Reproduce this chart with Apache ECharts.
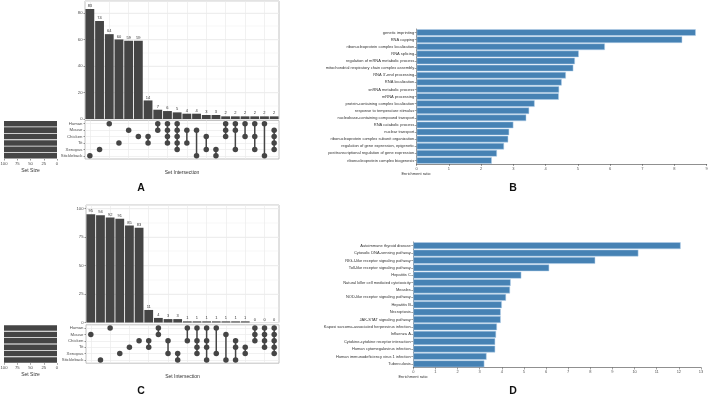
<!DOCTYPE html>
<html>
<head>
<meta charset="utf-8">
<script src="https://cdn.jsdelivr.net/npm/echarts@6/dist/echarts.min.js"></script>
<style>
  html, body { margin: 0; padding: 0; background: #fff; }
  #chart { width: 709px; height: 396px; }
</style>
</head>
<body>
<div id="chart"></div>
<script>
const sets = ["Human", "Mouse", "Chicken", "Tit", "Xenopus", "Stickleback"];

// panel A upset
const countsA = [83, 74, 64, 60, 59, 59, 14, 7, 6, 5, 4, 4, 3, 3, 2, 2, 2, 2, 2, 2];
const membersA = [
  ["Stickleback"], ["Xenopus"], ["Human"], ["Tit"], ["Mouse"], ["Chicken"],
  ["Chicken", "Tit"], ["Human", "Mouse"], ["Human", "Mouse", "Chicken", "Tit"],
  ["Human", "Mouse", "Chicken", "Tit", "Xenopus"], ["Mouse", "Tit"], ["Mouse", "Stickleback"],
  ["Chicken", "Xenopus"], ["Xenopus", "Stickleback"], ["Human", "Mouse", "Chicken"],
  ["Human", "Mouse", "Xenopus"], ["Human", "Chicken"], ["Human", "Chicken", "Xenopus"],
  ["Human", "Stickleback"], ["Mouse", "Chicken", "Tit", "Xenopus"]
];
const setSizeA = [100, 100, 100, 100, 100, 100];

// panel C upset
const countsC = [95, 94, 92, 91, 85, 83, 11, 4, 3, 3, 1, 1, 1, 1, 1, 1, 1, 0, 0, 0];
const membersC = [
  ["Mouse"], ["Stickleback"], ["Human"], ["Xenopus"], ["Tit"], ["Chicken"],
  ["Chicken", "Tit"], ["Human", "Mouse"], ["Chicken", "Xenopus"], ["Xenopus", "Stickleback"],
  ["Human", "Chicken"], ["Human", "Chicken", "Tit", "Xenopus"],
  ["Human", "Chicken", "Tit", "Stickleback"], ["Human", "Xenopus"], ["Mouse", "Stickleback"],
  ["Chicken", "Tit", "Stickleback"], ["Tit", "Xenopus"], ["Human", "Mouse", "Chicken"],
  ["Human", "Mouse", "Chicken", "Tit"], ["Human", "Mouse", "Chicken", "Tit", "Xenopus"]
];
const setSizeC = [100, 100, 100, 100, 100, 100];

// panel B GO enrichment
const termsB = [
  "genetic imprinting", "RNA capping", "ribonucleoprotein complex localization", "RNA splicing",
  "regulation of mRNA metabolic process", "mitochondrial respiratory chain complex assembly",
  "RNA 3'-end processing", "RNA localization", "snRNA metabolic process", "mRNA processing",
  "protein-containing complex localization", "response to temperature stimulus",
  "nucleobase-containing compound transport", "RNA catabolic process", "nuclear transport",
  "ribonucleoprotein complex subunit organization", "regulation of gene expression, epigenetic",
  "posttranscriptional regulation of gene expression", "ribonucleoprotein complex biogenesis"
];
const ratioB = [8.66, 8.24, 5.84, 5.03, 4.91, 4.86, 4.63, 4.5, 4.42, 4.41, 3.66, 3.49, 3.4, 3.0, 2.87, 2.84, 2.71, 2.49, 2.33];

// panel D KEGG enrichment
const termsD = [
  "Autoimmune thyroid disease", "Cytosolic DNA-sensing pathway", "RIG-I-like receptor signaling pathway",
  "Toll-like receptor signaling pathway", "Hepatitis C", "Natural killer cell mediated cytotoxicity",
  "Measles", "NOD-like receptor signaling pathway", "Hepatitis B", "Necroptosis",
  "JAK-STAT signaling pathway", "Kaposi sarcoma-associated herpesvirus infection", "Influenza A",
  "Cytokine-cytokine receptor interaction", "Human cytomegalovirus infection",
  "Human immunodeficiency virus 1 infection", "Tuberculosis"
];
const ratioD = [12.08, 10.17, 8.22, 6.14, 4.88, 4.4, 4.37, 4.19, 4.0, 3.95, 3.95, 3.78, 3.74, 3.7, 3.7, 3.31, 3.21];

const FONT = "Liberation Sans";
const DARK = "#454545";
const GRID = "#ebebeb";

const chart = echarts.init(document.getElementById("chart"), null, { renderer: "canvas" });

const grids = [], xAxes = [], yAxes = [], series = [];

function addGrid(g) {
  grids.push(Object.assign({ containLabel: false, outerBoundsMode: "none" }, g));
  return grids.length - 1;
}

function upset(counts, members, sizes, box, yMax, yStep) {
  const cols = counts.map((_, i) => String(i + 1));

  // intersection bars
  const gBar = addGrid({ left: box.x, top: box.barTop, width: box.w, height: box.barH,
    show: true, borderColor: "#b3b3b3", borderWidth: 0.8, backgroundColor: "#fff" });
  xAxes.push({ gridIndex: gBar, type: "category", data: cols, position: "bottom",
    axisLine: { show: false }, axisTick: { show: false }, axisLabel: { show: false },
    splitLine: { show: true, alignWithLabel: true, lineStyle: { color: GRID, width: 0.7 } } });
  const xBar = xAxes.length - 1;
  // minor grid
  yAxes.push({ gridIndex: gBar, type: "value", position: "left", min: 0, max: yMax, interval: yStep / 2,
    axisLine: { show: false }, axisTick: { show: false }, axisLabel: { show: false },
    splitLine: { show: true, lineStyle: { color: GRID, width: 0.4 } } });
  yAxes.push({ gridIndex: gBar, type: "value", position: "left", offset: 0, min: 0, max: yMax, interval: yStep,
    axisLine: { show: false },
    axisTick: { show: true, length: 1.5, lineStyle: { color: "#333", width: 0.5 } },
    axisLabel: { fontSize: 4.2, color: "#4d4d4d", margin: 2.5, fontFamily: FONT, showMaxLabel: false },
    splitLine: { show: true, lineStyle: { color: GRID, width: 0.8 } } });
  series.push({ type: "bar", xAxisIndex: xBar, yAxisIndex: yAxes.length - 1, data: counts,
    barCategoryGap: "9%", itemStyle: { color: DARK }, silent: true,
    label: { show: true, position: "top", distance: 1, fontSize: 4, color: "#333", fontFamily: FONT } });

  // matrix
  const gMat = addGrid({ left: box.x, top: box.matTop, width: box.w, height: box.matH,
    show: true, borderColor: "#b3b3b3", borderWidth: 0.8, backgroundColor: "#fff" });
  xAxes.push({ gridIndex: gMat, type: "category", data: cols, position: "bottom",
    axisLine: { show: false }, axisTick: { show: false }, axisLabel: { show: false },
    splitLine: { show: true, alignWithLabel: true, lineStyle: { color: GRID, width: 0.7 } },
    name: "Set Intersection", nameLocation: "middle", nameGap: 11,
    nameTextStyle: { fontSize: 5, color: "#333", fontFamily: FONT } });
  const xMat = xAxes.length - 1;
  yAxes.push({ gridIndex: gMat, type: "category", data: sets, inverse: true, position: "left",
    axisLine: { show: false },
    axisTick: { show: true, alignWithLabel: true, length: 1.5, lineStyle: { color: "#333", width: 0.5 } },
    axisLabel: { fontSize: 4.3, color: "#4d4d4d", margin: 2.5, interval: 0, fontFamily: FONT },
    splitLine: { show: true, alignWithLabel: true, lineStyle: { color: GRID, width: 0.7 } } });
  const yMat = yAxes.length - 1;
  const dots = [], segs = [];
  members.forEach((m, i) => {
    const rows = m.map(s => sets.indexOf(s));
    rows.forEach(r => dots.push([i, r]));
    if (rows.length > 1) segs.push([i, Math.min(...rows), Math.max(...rows)]);
  });
  // connectors between the outermost member rows
  series.push({ type: "custom", xAxisIndex: xMat, yAxisIndex: yMat, data: segs, silent: true,
    clip: false, z: 3,
    renderItem: (params, api) => {
      const p1 = api.coord([api.value(0), api.value(1)]);
      const p2 = api.coord([api.value(0), api.value(2)]);
      return { type: "rect", shape: { x: p1[0] - 0.75, y: Math.min(p1[1], p2[1]), width: 1.5, height: Math.abs(p2[1] - p1[1]) },
        style: { fill: DARK } };
    } });
  series.push({ type: "scatter", xAxisIndex: xMat, yAxisIndex: yMat, data: dots, silent: true,
    symbolSize: 5.5, itemStyle: { color: DARK, opacity: 1 }, z: 4 });

  // set size
  const gSize = addGrid({ left: 4, top: box.matTop, width: 53, height: box.matH });
  xAxes.push({ gridIndex: gSize, type: "value", inverse: true, min: 0, max: 100, interval: 25, position: "bottom",
    axisLine: { show: false },
    axisTick: { show: true, length: 1.5, lineStyle: { color: "#333", width: 0.5 } },
    axisLabel: { fontSize: 4.2, color: "#4d4d4d", margin: 2.5, fontFamily: FONT },
    splitLine: { show: false },
    name: "Set Size", nameLocation: "middle", nameGap: 9,
    nameTextStyle: { fontSize: 5, color: "#333", fontFamily: FONT } });
  yAxes.push({ gridIndex: gSize, type: "category", data: sets, inverse: true, show: false });
  series.push({ type: "bar", xAxisIndex: xAxes.length - 1, yAxisIndex: yAxes.length - 1,
    data: sizes, barCategoryGap: "14%", itemStyle: { color: DARK }, silent: true });
}

function enrich(terms, values, box, xMax) {
  const g = addGrid({ left: box.x, top: box.top, width: box.w, height: box.h });
  xAxes.push({ gridIndex: g, type: "value", min: 0, max: xMax, interval: 1, position: "bottom",
    axisLine: { show: true, lineStyle: { color: "#444", width: 0.6 } },
    axisTick: { show: true, length: 2, lineStyle: { color: "#444", width: 0.5 } },
    axisLabel: { fontSize: 4, color: "#555", margin: 2.5, fontFamily: FONT },
    splitLine: { show: false } });
  yAxes.push({ gridIndex: g, type: "category", data: terms, inverse: true, position: "left",
    axisLine: { show: true, lineStyle: { color: "#444", width: 0.6 } },
    axisTick: { show: true, length: 2, alignWithLabel: true, lineStyle: { color: "#444", width: 0.5 } },
    axisLabel: { fontSize: 4, color: "#333", margin: 2.5, interval: 0, fontFamily: FONT } });
  series.push({ type: "bar", xAxisIndex: xAxes.length - 1, yAxisIndex: yAxes.length - 1,
    data: values, barCategoryGap: "8%", silent: true,
    itemStyle: { color: "#4682b4", borderColor: "#b5d1ea", borderWidth: 0.5 } });
}

upset(countsA, membersA, setSizeA, { x: 85, w: 194, barTop: 1, barH: 118, matTop: 120.5, matH: 38.5 }, 89, 20);
upset(countsC, membersC, setSizeC, { x: 86, w: 193, barTop: 205, barH: 117.5, matTop: 324.8, matH: 38.4 }, 103, 25);
enrich(termsB, ratioB, { x: 416.7, top: 29, w: 290, h: 135 }, 9);
enrich(termsD, ratioD, { x: 413.3, top: 242, w: 287.7, h: 125.5 }, 13);

const letter = (t, x, y) => ({ type: "text", x, y,
  style: { text: t, fontSize: 10.5, fontWeight: "bold", fontFamily: FONT, fill: "#111",
    textAlign: "center", textVerticalAlign: "middle" } });
const small = (t, x, y) => ({ type: "text", x, y,
  style: { text: t, fontSize: 4, fontFamily: FONT, fill: "#333",
    textAlign: "center", textVerticalAlign: "middle" } });

chart.setOption({
  animation: false,
  backgroundColor: "#fff",
  textStyle: { fontFamily: FONT },
  grid: grids,
  xAxis: xAxes,
  yAxis: yAxes,
  series: series,
  graphic: [
    letter("A", 141, 188), letter("B", 513, 188),
    letter("C", 141, 391), letter("D", 513, 391),
    small("Enrichment ratio", 416, 174), small("Enrichment ratio", 413, 377)
  ]
});
</script>
</body>
</html>
